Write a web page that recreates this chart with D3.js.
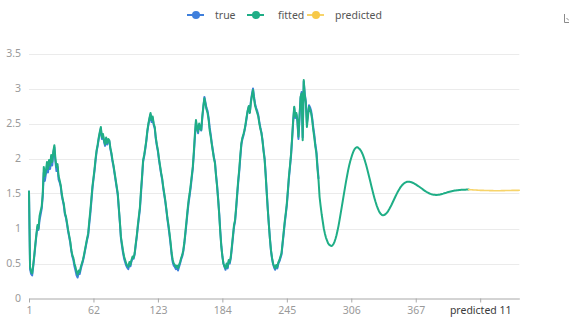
<!DOCTYPE html>
<html><head><meta charset="utf-8">
<script src="https://cdn.jsdelivr.net/npm/d3@7/dist/d3.min.js"></script>
<style>body{margin:0;background:#fff}svg{display:block}text{font-family:"Noto Sans","Open Sans",sans-serif}</style>
</head><body><svg id="c" width="569" height="320"></svg>
<script>
const numericCount = 417;
const predictedCount = 48;
const yTicks = [0, 0.5, 1, 1.5, 2, 2.5, 3, 3.5];
const labelEvery = 61;
const seriesNames = ["true", "fitted", "predicted"];
const seriesColors = ["#3f7fdc", "#1fae86", "#f7d46a"];

const trueValues = [
1.53,0.42,0.35,0.33,0.46,0.6,0.75,0.9,1.02,0.98,
1.12,1.2,1.28,1.45,1.8,1.68,1.78,1.9,1.8,1.95,
1.85,2.0,1.9,2.08,2.16,1.95,1.82,1.88,1.7,1.66,
1.6,1.47,1.4,1.32,1.2,1.15,1.06,0.96,0.88,0.8,
0.68,0.6,0.55,0.46,0.4,0.33,0.3,0.36,0.35,0.42,
0.48,0.53,0.6,0.68,0.76,0.84,0.9,1.06,1.2,1.38,
1.56,1.7,1.82,1.97,2.1,2.18,2.28,2.36,2.43,2.28,
2.33,2.24,2.18,2.28,2.2,2.26,2.25,2.14,2.06,1.96,
1.88,1.78,1.68,1.58,1.48,1.28,1.08,0.86,0.75,0.65,
0.57,0.52,0.47,0.44,0.42,0.5,0.46,0.53,0.58,0.57,
0.63,0.76,0.88,1.02,1.15,1.28,1.5,1.72,1.95,2.03,
2.13,2.24,2.38,2.48,2.56,2.63,2.52,2.58,2.48,2.43,
2.28,2.18,2.1,1.98,1.88,1.78,1.7,1.58,1.48,1.38,
1.26,1.13,1.02,0.9,0.77,0.62,0.52,0.47,0.45,0.42,
0.44,0.4,0.45,0.5,0.56,0.6,0.67,0.78,0.92,1.07,
1.22,1.36,1.47,1.58,1.72,1.85,2.06,2.3,2.52,2.43,
2.36,2.48,2.43,2.4,2.58,2.73,2.88,2.8,2.72,2.68,
2.58,2.44,2.34,2.22,2.12,2.02,1.95,1.77,1.62,1.43,
1.22,0.97,0.76,0.61,0.5,0.45,0.41,0.48,0.43,0.53,
0.5,0.58,0.72,0.87,1.02,1.1,1.27,1.47,1.66,1.82,
2.02,2.2,2.28,2.33,2.4,2.48,2.58,2.68,2.74,2.66,
2.82,2.92,3.0,2.88,2.78,2.72,2.68,2.62,2.52,2.44,
2.37,2.26,2.12,2.0,1.78,1.52,1.28,1.06,0.86,0.68,
0.57,0.49,0.44,0.41,0.46,0.43,0.5,0.53,0.58,0.63,
0.78,0.92,1.07,1.2,1.33,1.52,1.72,1.88,2.04,2.27,
2.52,2.72,2.58,2.63,2.53,2.28,2.58,2.86,2.95,2.3,
3.1,2.92,2.82,2.5,2.63,2.76,2.73,2.68,2.58,2.45,
2.34,2.2,2.1,1.9,1.72];

const fittedValues = [
1.53,0.45,0.38,0.36,0.48,0.62,0.78,0.92,1.05,1.0,
1.18,1.25,1.31,1.5,1.88,1.75,1.82,1.95,1.85,1.98,
1.9,2.05,1.95,2.1,2.19,2.0,1.88,1.92,1.75,1.69,
1.62,1.5,1.41,1.35,1.22,1.17,1.08,0.98,0.9,0.82,
0.7,0.62,0.58,0.5,0.45,0.38,0.34,0.4,0.38,0.45,
0.5,0.55,0.62,0.7,0.78,0.86,0.93,1.1,1.25,1.42,
1.6,1.72,1.85,2.0,2.12,2.2,2.3,2.38,2.45,2.3,
2.35,2.26,2.2,2.3,2.22,2.28,2.26,2.15,2.08,1.98,
1.9,1.8,1.7,1.6,1.5,1.3,1.1,0.88,0.78,0.68,
0.6,0.55,0.5,0.47,0.45,0.52,0.48,0.55,0.6,0.58,
0.65,0.78,0.9,1.05,1.18,1.31,1.55,1.75,1.98,2.05,
2.15,2.26,2.4,2.5,2.58,2.65,2.55,2.6,2.5,2.45,
2.3,2.2,2.12,2.0,1.9,1.8,1.72,1.6,1.5,1.4,
1.28,1.15,1.05,0.93,0.8,0.65,0.55,0.5,0.48,0.45,
0.47,0.43,0.48,0.52,0.58,0.62,0.69,0.8,0.95,1.1,
1.26,1.4,1.5,1.62,1.75,1.88,2.1,2.35,2.55,2.45,
2.38,2.5,2.45,2.41,2.6,2.75,2.86,2.78,2.7,2.65,
2.55,2.4,2.31,2.2,2.1,2.0,1.93,1.75,1.6,1.41,
1.2,0.95,0.74,0.6,0.5,0.46,0.43,0.5,0.45,0.55,
0.52,0.6,0.75,0.9,1.05,1.12,1.3,1.5,1.69,1.85,
2.05,2.22,2.3,2.35,2.41,2.5,2.6,2.69,2.75,2.65,
2.8,2.9,2.98,2.85,2.75,2.7,2.65,2.6,2.5,2.42,
2.36,2.25,2.1,1.98,1.75,1.5,1.26,1.05,0.85,0.69,
0.58,0.5,0.46,0.43,0.48,0.45,0.52,0.55,0.6,0.65,
0.8,0.95,1.1,1.22,1.36,1.55,1.75,1.9,2.07,2.3,
2.55,2.74,2.6,2.65,2.55,2.31,2.6,2.88,2.93,2.26,
3.12,2.9,2.79,2.45,2.6,2.74,2.7,2.65,2.55,2.41,
2.3,2.17,2.07,1.85,1.69,1.45,1.32,1.2,1.1,1.0,
0.93,0.87,0.83,0.79,0.77,0.76,0.75,0.756,0.775,0.805,
0.85,0.905,0.97,1.045,1.13,1.22,1.31,1.4,1.49,1.58,
1.67,1.75,1.83,1.9,1.96,2.01,2.06,2.1,2.13,2.15,
2.16,2.16,2.146,2.134,2.113,2.086,2.051,2.009,1.962,1.91,
1.854,1.794,1.733,1.67,1.607,1.546,1.486,1.43,1.378,1.331,
1.289,1.254,1.226,1.206,1.194,1.19,1.193,1.2,1.213,1.23,
1.252,1.278,1.306,1.336,1.368,1.4,1.432,1.464,1.495,1.524,
1.551,1.576,1.598,1.617,1.633,1.646,1.656,1.663,1.667,1.668,
1.667,1.664,1.66,1.654,1.647,1.639,1.63,1.62,1.61,1.6,
1.589,1.578,1.567,1.556,1.545,1.535,1.525,1.516,1.508,1.5,
1.494,1.489,1.485,1.482,1.481,1.48,1.48,1.481,1.483,1.486,
1.49,1.494,1.498,1.503,1.508,1.512,1.517,1.521,1.525,1.529,
1.533,1.536,1.539,1.542,1.544,1.546,1.548,1.55,1.551,1.552,
1.553,1.554,1.555,1.555,1.556,1.556,1.556];

const predictedStart = 416;
const predictedValues = [
1.556,1.555,1.554,1.553,1.552,1.551,1.55,1.549,1.548,1.547,
1.546,1.545,1.545,1.544,1.544,1.543,1.543,1.542,1.542,1.542,
1.541,1.541,1.541,1.541,1.54,1.54,1.54,1.54,1.54,1.54,
1.54,1.541,1.541,1.541,1.541,1.542,1.542,1.542,1.543,1.543,
1.543,1.544,1.544,1.544,1.545,1.545,1.545,1.545,1.546];

const categories = d3.range(1, numericCount + 1).map(String)
  .concat(d3.range(1, predictedCount + 1).map(i => "predicted " + i));

const svg = d3.select("#c");
const x = d3.scalePoint().domain(categories).range([29, 519.3]).padding(0);
const y = d3.scaleLinear().domain([0, 3.5]).range([298.5, 53.5]);

// grid
svg.append("g").selectAll("line").data(yTicks.filter(d => d > 0)).join("line")
  .attr("x1", 29).attr("x2", 519.3)
  .attr("y1", d => Math.round(y(d)) + 0.5).attr("y2", d => Math.round(y(d)) + 0.5)
  .attr("stroke", "#ebebeb").attr("stroke-width", 1);

// y labels
svg.append("g").selectAll("text").data(yTicks).join("text")
  .attr("x", 21).attr("y", d => y(d)).attr("dy", "0.35em")
  .attr("text-anchor", "end").attr("font-size", 10.5).attr("fill", "#9a9a9a")
  .text(d => d);

// x axis
const tickCats = categories.filter((c, i) => i % labelEvery === 0);
const xAxis = d3.axisBottom(x).tickValues(tickCats).tickSize(4).tickPadding(4).tickSizeOuter(0);
const gx = svg.append("g").attr("transform", "translate(0,298.5)").call(xAxis);
gx.select(".domain").attr("stroke", "#a8a8a8");
gx.selectAll(".tick line").attr("stroke", "#a8a8a8");
gx.selectAll(".tick text").attr("font-size", 10.5)
  .attr("font-family", '"Noto Sans","Open Sans",sans-serif')
  .attr("fill", d => d.startsWith("predicted") ? "#3a3a3a" : "#9a9a9a");

// lines
const line = d3.line().x(d => x(categories[d[0]])).y(d => y(d[1]));
const trueData = trueValues.map((v, i) => [i, v]);
const fittedData = fittedValues.map((v, i) => [i, v]);
const predData = predictedValues.map((v, i) => [predictedStart + i, v]);
[[trueData, 0], [fittedData, 1], [predData, 2]].forEach(([d, k]) => {
  svg.append("path").datum(d).attr("d", line)
    .attr("fill", "none").attr("stroke", seriesColors[k])
    .attr("stroke-width", k === 2 ? 1.6 : 2)
    .attr("stroke-linejoin", "round").attr("stroke-linecap", "round");
});

// legend
const legendX = [187, 247, 307];
const legendTextX = [215, 278, 335];
seriesNames.forEach((n, k) => {
  const g = svg.append("g");
  g.append("line").attr("x1", legendX[k]).attr("x2", legendX[k] + 17)
    .attr("y1", 15).attr("y2", 15).attr("stroke", seriesColors[k]).attr("stroke-width", 2);
  g.append("circle").attr("cx", legendX[k] + 9).attr("cy", 15).attr("r", 4)
    .attr("fill", k === 2 ? "#f7c948" : seriesColors[k]);
  g.append("text").attr("x", legendTextX[k]).attr("y", 15).attr("dy", "0.35em")
    .attr("font-size", 10.5).attr("fill", "#555").text(n);
});

// partial toolbox icon at right edge
svg.append("path").attr("d", "M564.5,14 V22.5 H570 M566.5,18 L569,20.5")
  .attr("fill", "none").attr("stroke", "#8a8a8a").attr("stroke-width", 1);
</script></body></html>
